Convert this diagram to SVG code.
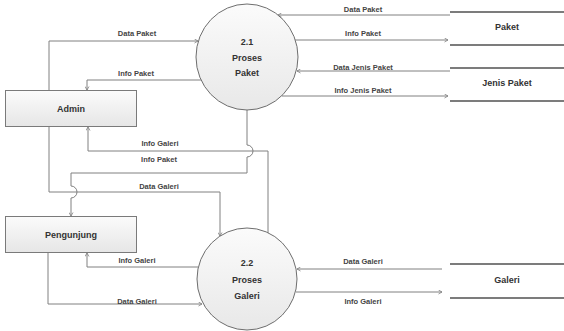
<svg xmlns="http://www.w3.org/2000/svg" width="564" height="331" viewBox="0 0 564 331">
<style>
  .bg{fill:#ffffff}
  .ent{fill:url(#gBox);stroke:#7a7a7a;stroke-width:1}
  .proc{fill:url(#gCirc);stroke:#6e6e6e;stroke-width:1}
  .store{stroke:#505050;stroke-width:1.5;fill:none}
  .flow{fill:none;stroke:#808080;stroke-width:1;marker-end:url(#arr)}
  .nt{font-family:"Liberation Sans",Arial,sans-serif;font-weight:bold;font-size:9px;fill:#333333;text-anchor:middle}
  .lt{font-family:"Liberation Sans",Arial,sans-serif;font-weight:bold;font-size:7.5px;fill:#444444;text-anchor:middle}
</style>
<defs>
  <linearGradient id="gBox" x1="0" y1="0" x2="0" y2="1">
    <stop offset="0" stop-color="#fbfbfb"/>
    <stop offset="1" stop-color="#e6e6e6"/>
  </linearGradient>
  <linearGradient id="gCirc" x1="0" y1="0" x2="0" y2="1">
    <stop offset="0" stop-color="#fbfbfb"/>
    <stop offset="1" stop-color="#e8e8e8"/>
  </linearGradient>
  <marker id="arr" markerUnits="userSpaceOnUse" markerWidth="5" markerHeight="5" refX="4" refY="2.5" orient="auto">
    <path d="M0.5,0.5 L4,2.5 L0.5,4.5" fill="none" stroke="#808080" stroke-width="0.8"/>
  </marker>
</defs>
<rect class="bg" x="0" y="0" width="564" height="331"/>

<g id="connectors">
  <path class="flow" d="M49,90 V41 H198"/>
  <path class="flow" d="M201,80 H87 V90"/>
  <path class="flow" d="M450,15 H278"/>
  <path class="flow" d="M295,40 H448"/>
  <path class="flow" d="M450,71 H297"/>
  <path class="flow" d="M282,96 H448"/>
  <path class="flow" d="M247,110 V145 A6,6 0 0 1 247,157 V173 H71 V186 A6,6 0 0 1 71,198 V216"/>
  <path class="flow" d="M49,127 V192 H220 V236"/>
  <path class="flow" d="M268,233 V151 H88 V127"/>
  <path class="flow" d="M198,267 H87 V253"/>
  <path class="flow" d="M48,253 V304 H202"/>
  <path class="flow" d="M442,269 H297"/>
  <path class="flow" d="M296,292 H442"/>
  <text class="lt" x="137" y="36">Data Paket</text>
  <text class="lt" x="136" y="76">Info Paket</text>
  <text class="lt" x="363" y="12">Data Paket</text>
  <text class="lt" x="363" y="36">Info Paket</text>
  <text class="lt" x="363" y="70">Data Jenis Paket</text>
  <text class="lt" x="363" y="93">Info Jenis Paket</text>
  <text class="lt" x="160" y="146">Info Galeri</text>
  <text class="lt" x="159" y="162">Info Paket</text>
  <text class="lt" x="159" y="189">Data Galeri</text>
  <text class="lt" x="137" y="263">Info Galeri</text>
  <text class="lt" x="137" y="304">Data Galeri</text>
  <text class="lt" x="363" y="264">Data Galeri</text>
  <text class="lt" x="363" y="304">Info Galeri</text>
</g>

<g id="admin">
  <rect class="ent" x="5.5" y="90.5" width="131" height="36"/>
  <text class="nt" x="71" y="112">Admin</text>
</g>
<g id="pengunjung">
  <rect class="ent" x="5.5" y="216.5" width="131" height="36"/>
  <text class="nt" x="71" y="238">Pengunjung</text>
</g>
<g id="p21">
  <ellipse class="proc" cx="247" cy="57" rx="51" ry="53"/>
  <text class="nt" x="247" y="45">2.1</text>
  <text class="nt" x="247" y="61">Proses</text>
  <text class="nt" x="247" y="76">Paket</text>
</g>
<g id="p22">
  <ellipse class="proc" cx="247" cy="279" rx="50" ry="51"/>
  <text class="nt" x="247" y="266">2.2</text>
  <text class="nt" x="247" y="283">Proses</text>
  <text class="nt" x="247" y="299">Galeri</text>
</g>
<g id="store-paket">
  <line class="store" x1="450" y1="12" x2="564" y2="12"/>
  <line class="store" x1="450" y1="45" x2="564" y2="45"/>
  <text class="nt" x="507" y="30">Paket</text>
</g>
<g id="store-jenis">
  <line class="store" x1="450" y1="68" x2="564" y2="68"/>
  <line class="store" x1="450" y1="101" x2="564" y2="101"/>
  <text class="nt" x="507" y="86">Jenis Paket</text>
</g>
<g id="store-galeri">
  <line class="store" x1="450" y1="264" x2="564" y2="264"/>
  <line class="store" x1="450" y1="298" x2="564" y2="298"/>
  <text class="nt" x="507" y="283">Galeri</text>
</g>
</svg>
